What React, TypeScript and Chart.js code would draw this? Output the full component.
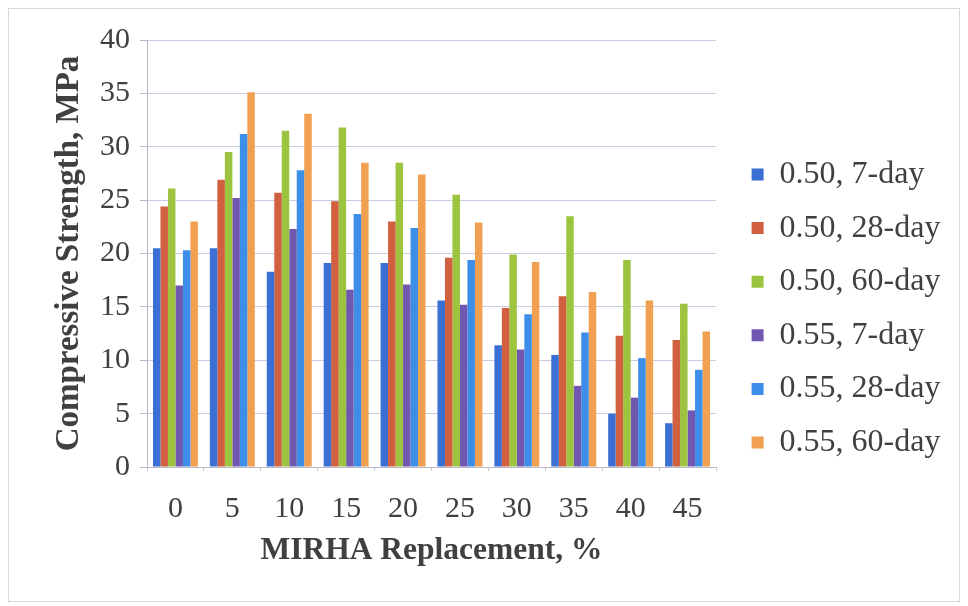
import React, { useEffect, useRef } from "react";
import { Chart, registerables } from "chart.js";

Chart.register(...registerables);

const categories = ["0", "5", "10", "15", "20", "25", "30", "35", "40", "45"];
const w050d7 = [20.5, 20.5, 18.3, 19.1, 19.1, 15.6, 11.4, 10.5, 5.0, 4.1];
const w050d28 = [24.4, 26.9, 25.7, 24.9, 23.0, 19.6, 14.9, 16.0, 12.3, 11.9];
const w050d60 = [26.1, 29.5, 31.5, 31.8, 28.5, 25.5, 19.9, 23.5, 19.4, 15.3];
const w055d7 = [17.0, 25.2, 22.3, 16.6, 17.1, 15.2, 11.0, 7.6, 6.5, 5.3];
const w055d28 = [20.3, 31.2, 27.8, 23.7, 22.4, 19.4, 14.3, 12.6, 10.2, 9.1];
const w055d60 = [23.0, 35.1, 33.1, 28.5, 27.4, 22.9, 19.2, 16.4, 15.6, 12.7];
const seriesLabels = ["0.50, 7-day", "0.50, 28-day", "0.50, 60-day", "0.55, 7-day", "0.55, 28-day", "0.55, 60-day"];
const seriesColors = ["#3b6fd4", "#d0603f", "#9cc43e", "#7058b0", "#3c8ee8", "#f0a050"];

const FONT = '"Liberation Serif", "Times New Roman", serif';
const TEXT = "#404040";
const LEGEND_W = 243;
const LEGEND_GAP = 14;
const LEGEND_DY = 3.5;

const legendGap = {
  id: "legendGap",
  afterInit(chart: any) {
    const lg = chart.legend;
    if (!lg) return;
    const fit = lg.fit.bind(lg);
    lg.fit = function () {
      fit();
      this.width = LEGEND_W;
    };
  },
  afterLayout(chart: any) {
    const lg = chart.legend;
    if (lg) {
      lg.left += LEGEND_GAP;
      lg.top += LEGEND_DY;
      lg.bottom += LEGEND_DY;
    }
  },
};

export default function App() {
  const ref = useRef<HTMLCanvasElement>(null);
  useEffect(() => {
    if (!ref.current) return;
    const values = [w050d7, w050d28, w050d60, w055d7, w055d28, w055d60];
    const chart = new Chart(ref.current, {
      type: "bar",
      data: {
        labels: categories,
        datasets: values.map((v, i) => ({
          label: seriesLabels[i],
          data: v,
          backgroundColor: seriesColors[i],
          borderWidth: 0,
          categoryPercentage: 0.79,
          barPercentage: 1.0,
        })),
      },
      options: {
        animation: false,
        responsive: false,
        maintainAspectRatio: false,
        layout: { padding: { left: 39, top: 31, right: 0, bottom: 31 } },
        plugins: {
          tooltip: { enabled: false },
          legend: {
            position: "right",
            align: "center",
            labels: {
              font: { family: FONT, size: 32 },
              color: TEXT,
              boxWidth: 12,
              boxHeight: 12,
              padding: 21.6,
            },
          },
        },
        scales: {
          x: {
            grid: { display: true, drawOnChartArea: false, tickLength: 4, color: "#c8c8d0" },
            border: { display: true, color: "#b8b8c8" },
            ticks: { font: { family: FONT, size: 30 }, color: TEXT, padding: 20 },
            title: {
              display: true,
              text: "MIRHA Replacement, %",
              font: { family: FONT, size: 31.5, weight: "bold" },
              color: TEXT,
              padding: { top: 0, bottom: 0 },
            },
            afterFit: (s: any) => { s.height = 103; },
          },
          y: {
            min: 0,
            max: 40,
            ticks: { stepSize: 5, font: { family: FONT, size: 30 }, color: TEXT, padding: 10 },
            grid: { color: "#c8cce0", tickLength: 7, tickColor: "#b8b8c8" },
            border: { display: true, color: "#b8b8c8" },
            title: {
              display: true,
              text: "Compressive Strength, MPa",
              font: { family: FONT, size: 33, weight: "bold" },
              color: TEXT,
              padding: { top: 2, bottom: 10 },
            },
            afterFit: (s: any) => { s.width = 99; },
          },
        },
      } as any,
      plugins: [legendGap],
    });
    return () => chart.destroy();
  }, []);
  return (
    <div style={{ width: 952, height: 594, border: "1px solid #d8d8d8", boxSizing: "border-box", background: "#fff" }}>
      <canvas ref={ref} width={950} height={592} style={{ display: "block", width: 950, height: 592 }} />
    </div>
  );
}
